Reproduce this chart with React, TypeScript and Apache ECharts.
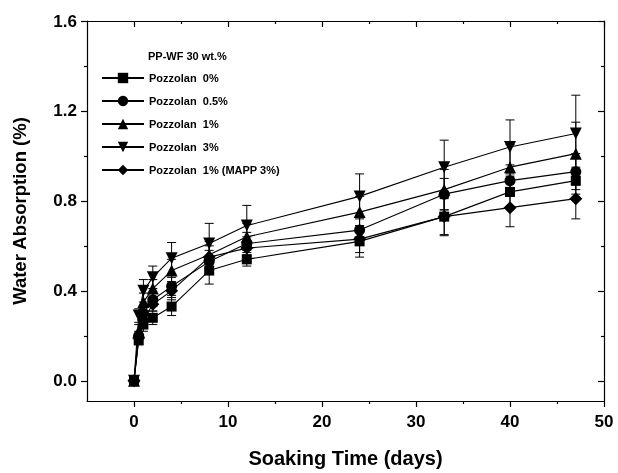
import React, { useEffect, useRef } from "react";
import * as echarts from "echarts";

const days = [0, 0.5, 1, 2, 4, 8, 12, 24, 33, 40, 47];

const seriesNames = [
  "Pozzolan  0%",
  "Pozzolan  0.5%",
  "Pozzolan  1%",
  "Pozzolan  3%",
  "Pozzolan  1% (MAPP 3%)",
];

const pozz0 = [0, 0.18, 0.25, 0.28, 0.33, 0.49, 0.54, 0.62, 0.73, 0.84, 0.89];
const pozz05 = [0, 0.2, 0.3, 0.36, 0.42, 0.53, 0.61, 0.67, 0.83, 0.89, 0.93];
const pozz1 = [0, 0.22, 0.35, 0.41, 0.49, 0.56, 0.64, 0.75, 0.85, 0.95, 1.01];
const pozz3 = [0, 0.29, 0.4, 0.46, 0.545, 0.61, 0.69, 0.82, 0.95, 1.04, 1.1];
const pozz1Mapp = [0, 0.19, 0.27, 0.34, 0.4, 0.55, 0.59, 0.63, 0.73, 0.77, 0.81];

const err0 = [0, 0.02, 0.03, 0.03, 0.04, 0.06, 0.03, 0.07, 0.08, 0.07, 0.06];
const err05 = [0, 0.02, 0.03, 0.03, 0.04, 0.05, 0.05, 0.06, 0.07, 0.07, 0.08];
const err1 = [0, 0.03, 0.04, 0.04, 0.05, 0.06, 0.06, 0.07, 0.09, 0.1, 0.14];
const err3 = [0, 0.03, 0.05, 0.05, 0.07, 0.09, 0.09, 0.1, 0.12, 0.12, 0.17];
const err1Mapp = [0, 0.02, 0.03, 0.03, 0.04, 0.05, 0.05, 0.06, 0.085, 0.085, 0.09];

const xMajor = [0, 10, 20, 30, 40, 50];
const xMinor = [5, 15, 25, 35, 45];
const yMajor = [0, 0.4, 0.8, 1.2, 1.6];
const yMinor = [0.2, 0.6, 1.0, 1.4];

const legendTitle = "PP-WF 30 wt.%";
const xName = "Soaking Time (days)";
const yName = "Water Absorption (%)";

const FONT = "'Liberation Sans', Arial, Helvetica, sans-serif";

export default function App() {
  const ref = useRef<HTMLDivElement>(null);

  useEffect(() => {
    const chart = echarts.init(ref.current!, null, { renderer: "svg" });

    const values = [pozz0, pozz05, pozz1, pozz3, pozz1Mapp];
    const errs = [err0, err05, err1, err3, err1Mapp];
    const symbols = ["rect", "circle", "triangle", "triangle", "diamond"];
    const sizes = [10, 11, 12, 12, 13];
    const rotates = [0, 0, 0, 180, 0];

    const lineSeries = values.map((vals, i) => ({
      type: "line",
      name: seriesNames[i],
      data: days.map((d, j) => [d, vals[j]]),
      symbol: symbols[i],
      symbolSize: sizes[i],
      symbolRotate: rotates[i],
      showAllSymbol: true,
      lineStyle: { color: "#000", width: 1.1 },
      itemStyle: { color: "#000" },
      z: 3,
      xAxisIndex: 0,
      yAxisIndex: 0,
    }));

    const errSeries = values.map((vals, i) => ({
      type: "custom",
      name: seriesNames[i] + " err",
      xAxisIndex: 0,
      yAxisIndex: 0,
      z: 2,
      silent: true,
      data: days.map((d, j) => [d, vals[j], errs[i][j]]),
      encode: { x: 0, y: 1 },
      renderItem: (params: any, api: any) => {
        const x = api.value(0);
        const y = api.value(1);
        const e = api.value(2);
        if (!e) return null;
        const top = api.coord([x, y + e]);
        const bot = api.coord([x, y - e]);
        const cw = 4.5;
        const st = { stroke: "#000", lineWidth: 1 };
        return {
          type: "group",
          children: [
            { type: "line", shape: { x1: top[0], y1: top[1], x2: bot[0], y2: bot[1] }, style: st },
            { type: "line", shape: { x1: top[0] - cw, y1: top[1], x2: top[0] + cw, y2: top[1] }, style: st },
            { type: "line", shape: { x1: bot[0] - cw, y1: bot[1], x2: bot[0] + cw, y2: bot[1] }, style: st },
          ],
        };
      },
    }));

    const axisLine = { show: true, onZero: false, lineStyle: { color: "#000", width: 1.2 } };
    const noLine = { show: false, onZero: false };
    const tickStyle = { color: "#000", width: 1.2 };
    const labelStyle = { color: "#000", fontFamily: FONT, fontWeight: "bold", fontSize: 17 };

    const xBase = { type: "value", min: -5, max: 50, splitLine: { show: false } };
    const yBase = { type: "value", min: -0.09, max: 1.6, splitLine: { show: false } };

    const option: any = {
      animation: false,
      grid: { left: 87, right: 14, top: 21, bottom: 70, containLabel: false },
      xAxis: [
        {
          ...xBase,
          position: "bottom",
          axisLine,
          axisTick: { show: true, inside: false, length: 6, customValues: xMajor, lineStyle: tickStyle },
          axisLabel: { show: true, customValues: xMajor, margin: 12, ...labelStyle },
          name: xName,
          nameLocation: "middle",
          nameGap: 47,
          nameTextStyle: { color: "#000", fontFamily: FONT, fontWeight: "bold", fontSize: 20 },
        },
        {
          ...xBase,
          position: "bottom",
          axisLine: noLine,
          axisTick: { show: true, inside: false, length: 3, customValues: xMinor, lineStyle: tickStyle },
          axisLabel: { show: false },
        },
        {
          ...xBase,
          position: "top",
          axisLine,
          axisTick: { show: true, inside: true, length: 6, customValues: xMajor, lineStyle: tickStyle },
          axisLabel: { show: false },
        },
        {
          ...xBase,
          position: "top",
          axisLine: noLine,
          axisTick: { show: true, inside: true, length: 3, customValues: xMinor, lineStyle: tickStyle },
          axisLabel: { show: false },
        },
      ],
      yAxis: [
        {
          ...yBase,
          position: "left",
          axisLine,
          axisTick: { show: true, inside: false, length: 6, customValues: yMajor, lineStyle: tickStyle },
          axisLabel: {
            show: true,
            customValues: yMajor,
            margin: 10,
            formatter: (v: number) => v.toFixed(1),
            ...labelStyle,
          },
          name: yName,
          nameLocation: "middle",
          nameGap: 58,
          nameRotate: 90,
          nameTextStyle: { color: "#000", fontFamily: FONT, fontWeight: "bold", fontSize: 18.5 },
        },
        {
          ...yBase,
          position: "left",
          axisLine: noLine,
          axisTick: { show: true, inside: false, length: 3, customValues: yMinor, lineStyle: tickStyle },
          axisLabel: { show: false },
        },
        {
          ...yBase,
          position: "right",
          axisLine,
          axisTick: { show: true, inside: true, length: 6, customValues: yMajor, lineStyle: tickStyle },
          axisLabel: { show: false },
        },
        {
          ...yBase,
          position: "right",
          axisLine: noLine,
          axisTick: { show: true, inside: true, length: 3, customValues: yMinor, lineStyle: tickStyle },
          axisLabel: { show: false },
        },
      ],
      legend: {
        show: true,
        orient: "vertical",
        left: 96,
        top: 66,
        itemWidth: 42,
        itemHeight: 13,
        itemGap: 9,
        data: seriesNames,
        textStyle: { color: "#000", fontFamily: FONT, fontWeight: "bold", fontSize: 11, lineHeight: 14 },
        inactiveColor: "#000",
        selectedMode: false,
      },
      graphic: [
        {
          type: "text",
          left: 148,
          top: 50,
          style: { text: legendTitle, fill: "#000", font: `bold 11px ${FONT}` },
        },
      ],
      series: [...errSeries, ...lineSeries],
    };

    chart.setOption(option);
    return () => chart.dispose();
  }, []);

  return <div ref={ref} style={{ position: "fixed", left: 0, top: 0, width: 618, height: 473 }} />;
}
